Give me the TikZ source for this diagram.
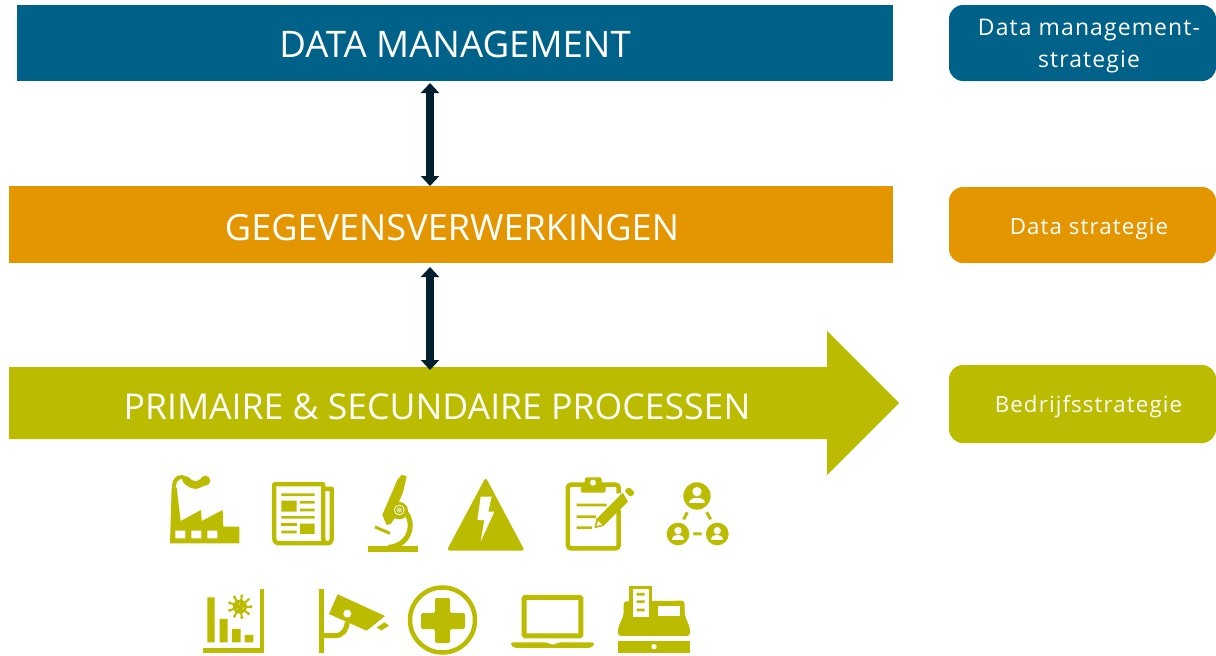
\documentclass[tikz,border=0pt]{standalone}
\usepackage{fontspec}
\setmainfont{Open Sans}
\newfontfamily\lblfont[LetterSpace=5]{Open Sans}
\usetikzlibrary{arrows.meta}
\definecolor{teal}{HTML}{006288}
\definecolor{orng}{HTML}{E39600}
\definecolor{olv}{HTML}{BBBB00}
\definecolor{arrowcol}{HTML}{03202E}
\tikzset{
  bar/.style={inner sep=0pt,outer sep=0pt,text=white,anchor=center},
  side/.style={inner sep=0pt,outer sep=0pt,rounded corners=14pt,text=white,align=center,font=\lblfont\fontsize{22.3}{32}\selectfont},
  link/.style={line width=8pt,draw=arrowcol,{Triangle[width=18pt,length=10pt]}-{Triangle[width=18pt,length=10pt]}},
  ico/.style={fill=olv,draw=none},
  icl/.style={draw=olv,fill=none},
  wht/.style={fill=white,draw=none},
  zoomA/.style={shift={(150,460)},x=0.3333pt,y=-0.3333pt},
  zoomB/.style={shift={(440,460)},x=0.3333pt,y=-0.3333pt}
}
\begin{document}
\begin{tikzpicture}[x=1pt,y=-1pt]
\useasboundingbox (0,0) rectangle (1216,656);
% bars
\node[bar,fill=teal,minimum width=876pt,minimum height=76pt] (dm) at (455,43) {};
\node[bar,fill=orng,minimum width=884pt,minimum height=77pt] (gv) at (451,224.5) {};
\fill[olv] (9,367) -- (827,367) -- (827,331) -- (899,403) -- (827,475) -- (827,439) -- (9,439) -- cycle;
\node[bar,minimum width=818pt,minimum height=72pt] (pr) at (418,403) {};
\node[bar,font=\fontsize{36.6}{36}\selectfont] (dmt) at (455,44.5) {DATA MANAGEMENT};
\node[bar,font=\fontsize{36.1}{36}\selectfont] (gvt) at (452,228) {GEGEVENSVERWERKINGEN};
\node[bar,font=\fontsize{35.6}{36}\selectfont] (prt) at (437,407) {PRIMAIRE \& SECUNDAIRE PROCESSEN};
% side
\node[side,fill=teal,minimum width=267pt,minimum height=76pt] (s1) at (1082.5,43) {};
\node[side,font=\lblfont\fontsize{22.9}{32}\selectfont] (s1t) at (1089,46) {Data management-\\strategie};
\node[side,fill=orng,minimum width=267pt,minimum height=76pt] (s2) at (1082.5,225) {};
\node[side] (s2t) at (1089,229) {Data strategie};
\node[side,fill=olv,minimum width=267pt,minimum height=78pt] (s3) at (1082.5,404) {};
\node[side] (s3t) at (1088.5,407) {Bedrijfsstrategie};
% connectors
\coordinate (ax) at (430,0);
\path (ax |- dm.south) ++(0,2) coordinate (p1) (ax |- gv.north) coordinate (p2);
\draw[link] (p1) -- (p2);
\path (ax |- gv.south) ++(0,4) coordinate (p3) (ax |- pr.north) ++(0,3) coordinate (p4);
\draw[link] (p3) -- (p4);
% icons left part
\begin{scope}[zoomA]
 % factory
 \fill[ico] (60,250) -- (65,82) -- (80,82) -- (92,183) -- (153,150) -- (155,183) -- (218,150) -- (220,200) -- (268,200) -- (268,250) -- cycle;
 \draw[icl,line width=4pt,line cap=round] (72,78) .. controls (74,52) and (92,45) .. (108,56);
 \draw[icl,line width=7.5pt,line cap=round] (108,60) .. controls (120,72) and (135,80) .. (148,72) -- (166,62);
 \fill[ico] (166,62) circle (15);
 \fill[wht] (76,212) rectangle (106,235) (124,212) rectangle (154,235) (172,212) rectangle (202,235);
 % newspaper
 \draw[icl,line width=4.3pt,line join=round] (522,86) -- (545,86) -- (545,238) .. controls (545,246) and (540,250) .. (530,250) -- (388,250) .. controls (378,250) and (373,245) .. (373,235) -- (373,73) -- (520,73) -- (520,238) .. controls (520,246) and (525,250) .. (533,250);
 \fill[ico] (394,100) rectangle (494,108) (394,122) rectangle (440,155) (450,123) rectangle (494,131) (450,146) rectangle (494,154) (394,168) rectangle (494,176) (394,212) rectangle (440,220) (450,191) rectangle (494,222);
 \fill[ico] (394,190) rectangle (440,198);
 % microscope
 \fill[ico] (742,60) -- (755,45) -- (770,48) -- (765,72) -- (758,100) -- (745,130) -- (738,170) -- (722,192) -- (710,195) -- (697,165) -- cycle;
 \fill[ico] (748,152) circle (26);
 \draw[icl,line width=5pt] (768,158) .. controls (795,190) and (780,258) .. (715,262);
 \fill[wht] (748,150) circle (16);
 \fill[ico] (748,150) circle (13);
 \fill[olv!45!white] (748,150) circle (8);
 \fill[ico] (654,258) rectangle (804,277);
 \draw[icl,line width=3pt] (675,201) -- (720,220);
 % chart
 \draw[icl,line width=4.5pt,line join=miter] (336,388) -- (336,572) -- (158,572);
 \fill[ico] (172,412) rectangle (194,547) (209,477) rectangle (233,547) (246,507) rectangle (272,547) (284,525) rectangle (310,547);
 \fill[ico] (270,440) circle (21);
 \foreach \a in {0,40,...,320} {\draw[icl,line width=2pt] (270,440) -- ++(\a:32); \fill[ico] (270,440) ++(\a:33) circle (5);}
 \foreach \a/\b in {268/432,280/445,262/448} \fill[olv!55!white] (\a,\b) circle (3);
 % camera
 \fill[ico] (506,388) rectangle (522,580);
 \draw[icl,line width=5pt] (514,527) -- (555,527) .. controls (578,527) and (590,510) .. (592,485);
 \fill[ico] (563,403) -- (705,468) -- (650,512) -- (537,462) -- cycle;
 \fill[wht] (592,461) circle (12);
 \fill[ico] (680,503) -- (703,487) -- (717,497) -- (695,511) -- cycle;
\end{scope}
\begin{scope}[zoomB]
 % warning
 \fill[ico,rounded corners=3pt] (137,52) -- (254,272) -- (20,272) -- cycle;
 \fill[wht] (122,110) -- (155,110) -- (145,155) -- (163,155) -- (122,245) -- (133,180) -- (112,180) -- cycle;
 % clipboard
 \draw[icl,line width=4.5pt,rounded corners=3pt] (536,150) -- (536,265) -- (384,265) -- (384,74) -- (536,74) -- (536,100);
 \fill[ico,rounded corners=2pt] (423,98) -- (423,70) -- (435,70) -- (435,52) -- (485,52) -- (485,70) -- (497,70) -- (497,98) -- cycle;
 \fill[wht] (459,68) circle (9);
 \fill[ico] (410,131) rectangle (500,139) (410,166) rectangle (468,174) (410,199) rectangle (456,207);
 \draw[white,line width=7pt] (473,195) -- (565,103);
 \fill[ico] (463,205) -- (469,177) -- (548,98) -- (564,125) -- (490,198) -- cycle;
 \fill[wht] (470,198) -- (474,183) -- (486,194) -- cycle;
 \fill[ico,rounded corners=1.5pt] (553,92) -- (567,81) -- (585,98) -- (572,112) -- cycle;
 % network
 \fill[ico] (771,108) circle (41) (714,222) circle (34) (832,222) circle (34);
 \fill[wht] (771,95) circle (14) (714,212) circle (11) (832,212) circle (11);
 \fill[wht] (748,130) .. controls (748,107) and (794,107) .. (794,130) -- cycle;
 \fill[wht] (696,240) .. controls (696,220) and (732,220) .. (732,240) -- cycle;
 \fill[wht] (814,240) .. controls (814,220) and (850,220) .. (850,240) -- cycle;
 \draw[icl,line width=3pt] (742,157) -- (731,178) (800,157) -- (812,178) (760,222) -- (785,222);
 % laptop
 \draw[icl,line width=5pt,rounded corners=1pt] (252.5,412.5) rectangle (422.5,527.5);
 \fill[ico,rounded corners=2pt] (213,547) -- (322,547) -- (327,553) -- (350,553) -- (355,547) -- (462,547) -- (462,556) -- (452,564) -- (223,564) -- (213,556) -- cycle;
 % register
 \fill[ico,rounded corners=3pt] (550,528) -- (534,528) -- (534,505) -- (551,465) -- (551,424) -- (734,422) -- (734,465) -- (750,505) -- (750,528) -- cycle;
 \fill[wht] (653,437) rectangle (720,467);
 \fill[wht] (568,377) rectangle (636,472);
 \draw[icl,line width=3.5pt] (573,472) -- (573,382) -- (631,382) -- (631,472);
 \fill[ico] (590,399) rectangle (614,407) (590,421) rectangle (614,429) (590,446) rectangle (614,454);
 \fill[ico] (534,543) rectangle (750,580);
 \fill[wht] (642,560) circle (8);
\end{scope}
% plus
\draw[icl,line width=4.5pt] (442.5,620) circle (32.5);
\fill[ico,rounded corners=2pt] (435,598) -- (450,598) -- (450,613) -- (465,613) -- (465,629) -- (450,629) -- (450,643) -- (435,643) -- (435,629) -- (421,629) -- (421,613) -- (435,613) -- cycle;
\end{tikzpicture}
\end{document}
